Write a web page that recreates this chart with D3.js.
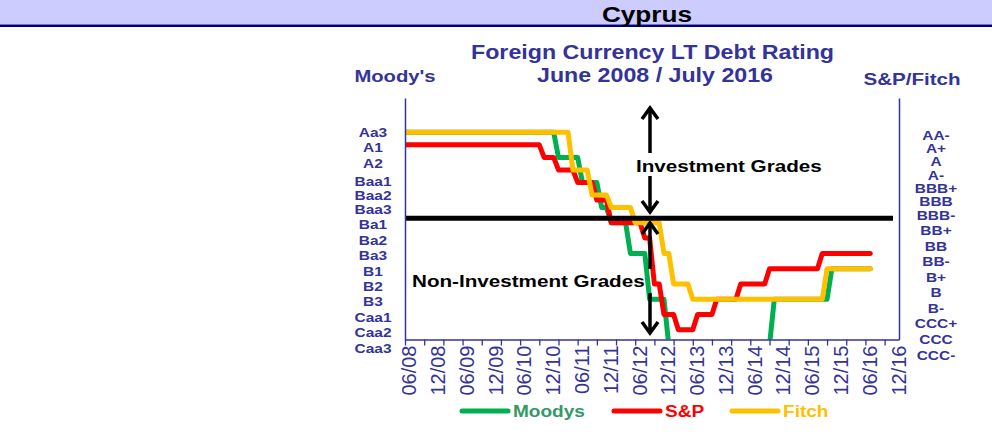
<!DOCTYPE html>
<html>
<head>
<meta charset="utf-8">
<script src="https://cdn.jsdelivr.net/npm/d3@7"></script>
<style>
  body { margin: 0; background: #fff; }
  svg { display: block; font-family: "Liberation Sans", Arial, sans-serif; }
</style>
</head>
<body>
<script>
// rating levels: 1 = Aaa/AAA, 4 = Aa3/AA-, 10 = Baa3/BBB-, 19 = Caa3/CCC-
// each series is a list of [month, level] rating changes, carried forward month to month
var firstMonth = "2008-06",
    lastMonth = "2016-07";

var moodysChanges = [
  ["2008-06", 4], ["2011-02", 6], ["2011-07", 8], ["2011-11", 10],
  ["2012-01", 11], ["2012-05", 13], ["2012-09", 16], ["2013-01", 19],
  ["2014-11", 16], ["2015-11", 14]
];
var spChanges = [
  ["2008-06", 5], ["2010-11", 6], ["2011-02", 7], ["2011-06", 8],
  ["2011-10", 9.4], ["2012-01", 11], ["2012-08", 12], ["2012-10", 15],
  ["2012-12", 17], ["2013-03", 18], ["2013-07", 17], ["2013-11", 16],
  ["2014-04", 15], ["2014-10", 14], ["2015-09", 13]
];
var fitchChanges = [
  ["2008-06", 4], ["2011-05", 7], ["2011-09", 9], ["2012-01", 10],
  ["2012-06", 11], ["2012-12", 13], ["2013-02", 15], ["2013-06", 16],
  ["2015-10", 14]
];

// investment / non-investment boundary
var gradeLine = 10.7;

var moodysLabels = ["Aa3", "A1", "A2", "Baa1", "Baa2", "Baa3", "Ba1", "Ba2", "Ba3",
                    "B1", "B2", "B3", "Caa1", "Caa2", "Caa3"];
var moodysLevels = [4, 5, 6, 8, 9, 10, 11, 12, 13, 14, 15, 16, 17, 18, 19];
var spFitchLabels = ["AA-", "A+", "A", "A-", "BBB+", "BBB", "BBB-", "BB+", "BB", "BB-",
                     "B+", "B", "B-", "CCC+", "CCC", "CCC-"];
var spFitchLevels = [4, 5, 6, 7, 8, 9, 10, 11, 12, 13, 14, 15, 16, 17, 18, 19];

var xLabels = ["06/08", "12/08", "06/09", "12/09", "06/10", "12/10", "06/11", "12/11", "06/12",
               "12/12", "06/13", "12/13", "06/14", "12/14", "06/15", "12/15", "06/16", "12/16"];

var seriesNames = ["Moodys", "S&P", "Fitch"];
var seriesColors = ["#00b050", "#ff0000", "#ffc000"];
var legendTextColors = ["#339966", "#ff0000", "#ffc000"];

//--------------------------------------------------------------
var width = 992, height = 437;
var blue = "#333399";
var stretch = 1.19; // text in the picture is drawn wider than it is tall

var plot = {left: 405, right: 899, top: 98, bottom: 339.5};

function monthIndex(s){
    var p = s.split("-");
    var f = firstMonth.split("-");
    return (+p[0] - +f[0]) * 12 + (+p[1] - +f[1]);
}

// monthly values, each month takes the latest rating
function toMonthly(changes){
    var n = monthIndex(lastMonth);
    var out = [];
    for (var m = 0; m <= n; m++){
        var v = null;
        changes.forEach(function(c){
            if (monthIndex(c[0]) <= m) v = c[1];
        });
        out.push({m: m, v: v});
    }
    return out;
}

var x = d3.scaleLinear().domain([0, 103]).range([plot.left, plot.right]);
// investment grades sit closer together than the lower grades
var y = d3.scaleLinear().domain([1.26, 10, 18.63]).range([plot.top, 207.5, plot.bottom]);
// the side labels are free text boxes, not quite on the plot scale
var yLeftLab = d3.scaleLinear().domain([4, 6, 8, 10, 19]).range([132.7, 163, 181, 209.5, 348]);
var yRightLab = d3.scaleLinear().domain([4, 10, 19]).range([135, 215, 355]);

var svg = d3.select("body")
    .append("svg")
    .attr("width", width)
    .attr("height", height);

// header band
svg.append("rect").attr("x", 0).attr("y", 0).attr("width", width).attr("height", 24.5)
    .attr("fill", "#ccccff");
svg.append("rect").attr("x", 0).attr("y", 24.5).attr("width", width).attr("height", 2.5)
    .attr("fill", "#000080");

function stretchedText(g, txt, tx, ty, size, color, weight, anchor, sx){
    return g.append("text")
        .attr("transform", "translate(" + tx + "," + ty + ") scale(" + (sx || stretch) + ",1)")
        .attr("text-anchor", anchor || "middle")
        .attr("font-size", size)
        .attr("font-weight", weight || "bold")
        .attr("fill", color)
        .text(txt);
}

stretchedText(svg, "Cyprus", 647, 21.5, 22, "#000");
stretchedText(svg, "Foreign Currency LT Debt Rating", 652.5, 58.5, 19.5, blue);
stretchedText(svg, "June 2008 / July 2016", 655, 82, 19.5, blue);
stretchedText(svg, "Moody's", 395, 82, 17, blue);
stretchedText(svg, "S&P/Fitch", 912, 85, 17.3, blue);

// rating lines
svg.append("clipPath").attr("id", "plotclip")
    .append("rect")
    .attr("x", plot.left).attr("y", plot.top)
    .attr("width", plot.right - plot.left).attr("height", plot.bottom - plot.top);

var line = d3.line()
    .x(function(d){ return x(d.m); })
    .y(function(d){ return y(d.v); });

var allSeries = [moodysChanges, spChanges, fitchChanges].map(toMonthly);

svg.append("g").attr("clip-path", "url(#plotclip)")
    .selectAll("path")
    .data(allSeries)
    .enter()
    .append("path")
    .attr("d", line)
    .attr("fill", "none")
    .attr("stroke", function(d, i){ return seriesColors[i]; })
    .attr("stroke-width", 5)
    .attr("stroke-linejoin", "round")
    .attr("stroke-linecap", "round");

// investment grade boundary
svg.append("line")
    .attr("x1", plot.left).attr("x2", 893)
    .attr("y1", y(gradeLine)).attr("y2", y(gradeLine))
    .attr("stroke", "#000").attr("stroke-width", 5);

// axes
var bottomAxis = d3.axisBottom(x)
    .tickValues(d3.range(0, 104, 4))
    .tickSize(6)
    .tickSizeOuter(0)
    .tickFormat("");
svg.append("g")
    .attr("transform", "translate(0," + plot.bottom + ")")
    .call(bottomAxis)
    .call(function(g){ g.selectAll("path,line").attr("stroke", blue).attr("stroke-width", 1.3); });

svg.append("g")
    .attr("transform", "translate(" + plot.left + ",0)")
    .call(d3.axisLeft(y).tickValues([]).tickSizeOuter(0))
    .call(function(g){ g.select("path").attr("stroke", blue).attr("stroke-width", 1.5); });
svg.append("g")
    .attr("transform", "translate(" + plot.right + ",0)")
    .call(d3.axisRight(y).tickValues([]).tickSizeOuter(0))
    .call(function(g){ g.select("path").attr("stroke", blue).attr("stroke-width", 1.5); });

// x labels, rotated
svg.append("g").selectAll("text")
    .data(xLabels)
    .enter()
    .append("text")
    .attr("transform", function(d, i){
        return "translate(" + (x(i * 6) + 4) + "," + (plot.bottom + 6) + ") scale(1.05,1) rotate(-90)";
    })
    .attr("text-anchor", "end")
    .attr("dy", "0.35em")
    .attr("font-size", 20)
    .attr("fill", blue)
    .text(function(d){ return d; });

// rating labels
var leftLab = svg.append("g");
moodysLabels.forEach(function(t, i){
    stretchedText(leftLab, t, 373, yLeftLab(moodysLevels[i]) + 4.6, 13, blue);
});
var rightLab = svg.append("g");
spFitchLabels.forEach(function(t, i){
    stretchedText(rightLab, t, 936, yRightLab(spFitchLevels[i]) + 4.6, 13, blue);
});

// grade arrows
function arrowLine(x0, y0, y1){
    svg.append("line").attr("x1", x0).attr("x2", x0).attr("y1", y0).attr("y2", y1)
        .attr("stroke", "#000").attr("stroke-width", 3.5);
}
function arrowHead(x0, tipY, dir){
    svg.append("path")
        .attr("d", d3.line()([[x0 - 8, tipY - dir * 11], [x0, tipY], [x0 + 8, tipY - dir * 11]]))
        .attr("fill", "none").attr("stroke", "#000").attr("stroke-width", 3.5)
        .attr("stroke-linejoin", "miter");
}
var ax = 650;
arrowLine(ax, 108, 153); arrowHead(ax, 108, -1);
arrowLine(ax, 176, 212); arrowHead(ax, 212, 1);
arrowLine(ax, 223, 269); arrowHead(ax, 223, -1);
arrowLine(ax, 293, 333); arrowHead(ax, 333, 1);

stretchedText(svg, "Investment Grades", 636, 171.5, 17.2, "#000", "bold", "start", 1.2);
stretchedText(svg, "Non-Investment Grades", 412, 286.5, 17.2, "#000", "bold", "start", 1.2);

// legend
var legendX = [460, 612, 730];
var legend = svg.append("g").selectAll("g")
    .data(seriesNames)
    .enter()
    .append("g")
    .attr("transform", function(d, i){ return "translate(" + legendX[i] + ",411)"; });
legend.append("line")
    .attr("x1", 2).attr("x2", 48).attr("y1", 0).attr("y2", 0)
    .attr("stroke", function(d, i){ return seriesColors[i]; })
    .attr("stroke-width", 5)
    .attr("stroke-linecap", "round");
legend.each(function(d, i){
    stretchedText(d3.select(this), d, 53, 6, 16, legendTextColors[i], "bold", "start");
});
</script>
</body>
</html>
